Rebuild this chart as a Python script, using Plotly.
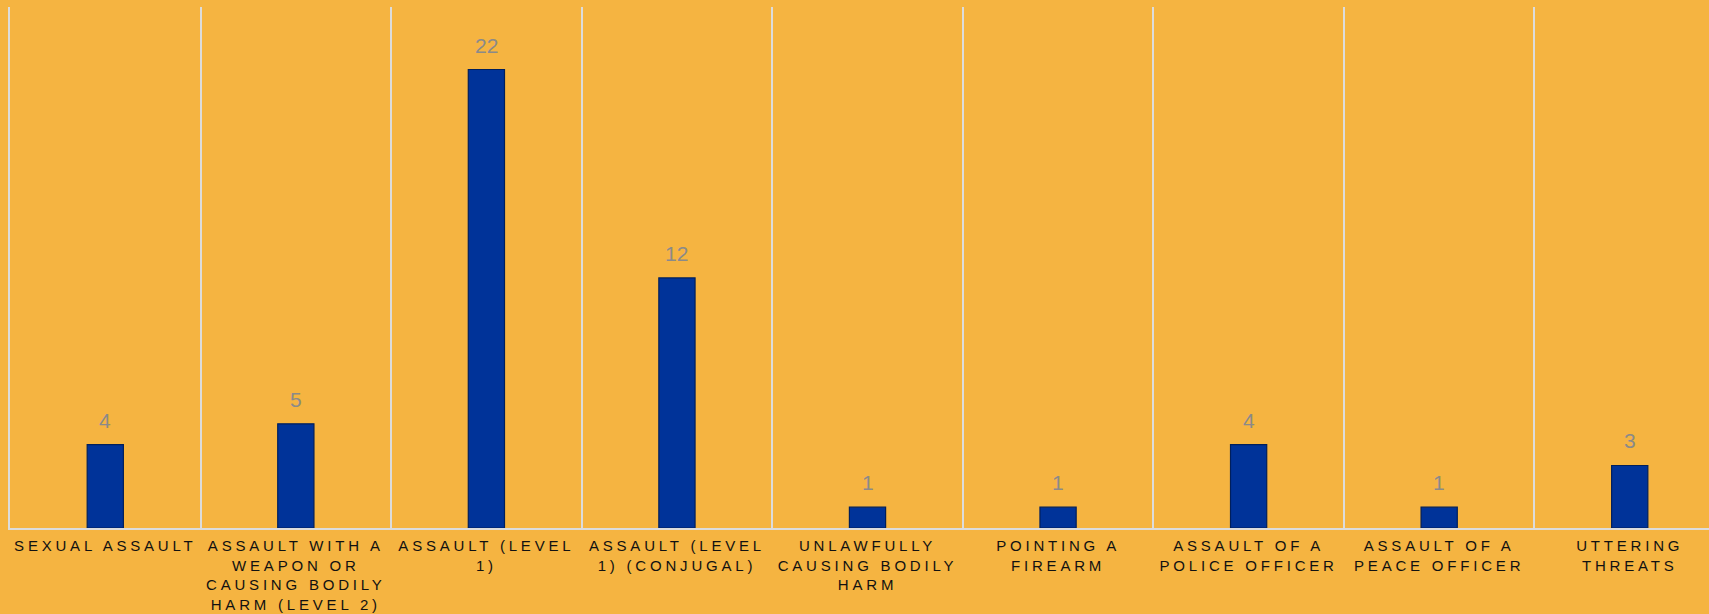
import plotly.graph_objects as go

categories = [
    "Sexual assault",
    "Assault with a weapon or causing bodily harm (level 2)",
    "Assault (level 1)",
    "Assault (level 1) (conjugal)",
    "Unlawfully causing bodily harm",
    "Pointing a firearm",
    "Assault of a police officer",
    "Assault of a peace officer",
    "Uttering threats",
]
values = [4, 5, 22, 12, 1, 1, 4, 1, 3]
tick_labels = [
    "SEXUAL ASSAULT",
    "ASSAULT WITH A<br>WEAPON OR<br>CAUSING BODILY<br>HARM (LEVEL 2)",
    "ASSAULT (LEVEL<br>1)",
    "ASSAULT (LEVEL<br>1) (CONJUGAL)",
    "UNLAWFULLY<br>CAUSING BODILY<br>HARM",
    "POINTING A<br>FIREARM",
    "ASSAULT OF A<br>POLICE OFFICER",
    "ASSAULT OF A<br>PEACE OFFICER",
    "UTTERING<br>THREATS",
]

BG = "#F5B441"
GRID = "#DCDCDC"
FONT = "Arial, Liberation Sans, Helvetica, sans-serif"

fig = go.Figure()
fig.add_trace(go.Bar(
    x=categories,
    y=values,
    width=0.19,
    marker=dict(color="#003399", line=dict(color="#001f5c", width=1.2)),
    hoverinfo="x+y",
))

for c, v in zip(categories, values):
    fig.add_annotation(
        x=c, y=v, text=str(v), showarrow=False,
        yanchor="bottom", yshift=11,
        font=dict(family=FONT, size=21, color="#8a8a8a"),
    )

fig.update_layout(
    width=1709, height=614,
    margin=dict(l=10, r=0, t=7, b=86),
    paper_bgcolor=BG, plot_bgcolor=BG,
    showlegend=False,
    bargap=0.81,
    xaxis=dict(
        type="category",
        range=[-0.5, 8.416],
        tickmode="array",
        tickvals=categories,
        ticktext=tick_labels,
        tickson="boundaries",
        showgrid=True, gridcolor=GRID, gridwidth=2,
        ticks="", ticklabelstandoff=3,
        showline=True, linecolor=GRID, linewidth=2,
        tickfont=dict(family=FONT, size=15, color="#111111"),
        tickangle=0,
        automargin=False,
    ),
    yaxis=dict(
        range=[0, 25], showgrid=False, showticklabels=False,
        zeroline=False, ticks="", showline=True, linecolor=GRID, linewidth=2,
    ),
)

post = """
document.body.style.margin='0';
document.documentElement.style.background='%s';
function ls(){document.querySelectorAll('.xtick text').forEach(function(t){t.style.letterSpacing='3.8px';});}
ls();
var gd=document.getElementById('{plot_id}');
gd.on('plotly_afterplot', ls);
""" % BG
fig.write_html("out.html", post_script=post, config={"displayModeBar": False})
